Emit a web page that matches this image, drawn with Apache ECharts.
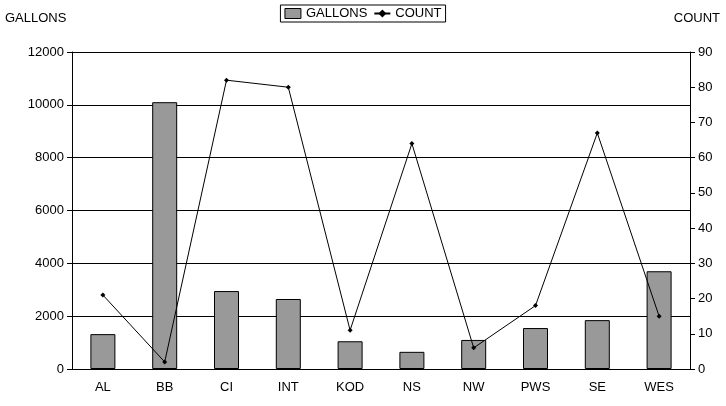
<!DOCTYPE html>
<html><head><meta charset="utf-8">
<script src="https://cdn.jsdelivr.net/npm/echarts@6/dist/echarts.min.js"></script>
<style>body{margin:0}#c{width:726px;height:406px}</style>
</head><body><div id="c"></div>
<script>
let cats=["AL","BB","CI","INT","KOD","NS","NW","PWS","SE","WES"];
let gallons=[1320,10100,2950,2650,1050,650,1100,1550,1850,3700];
let count=[21,2,82,80,11,64,6,18,67,15];
let font="Arial, Liberation Sans, sans-serif";
let chart=echarts.init(document.getElementById("c"));
chart.setOption({
  animation:false,
  textStyle:{fontFamily:font,color:"#000"},
  grid:{left:72,right:36,top:52,bottom:37},
  legend:{top:5,left:"center",itemGap:6,borderColor:"#000",borderWidth:1,padding:[2,4],
    itemWidth:16,itemHeight:10,textStyle:{fontSize:13,fontFamily:font,color:"#000"},
    data:[{name:"GALLONS",icon:"rect",itemStyle:{borderColor:"#000",borderWidth:1}},{name:"COUNT"}]},
  graphic:[
    {type:"text",left:5,top:12,style:{text:"GALLONS",font:"13px "+font,fill:"#000"}},
    {type:"text",right:6,top:12,style:{text:"COUNT",font:"13px "+font,fill:"#000"}}
  ],
  xAxis:{type:"category",data:cats,axisTick:{show:false},
    axisLine:{lineStyle:{color:"#000"}},axisLabel:{color:"#000",fontSize:13,margin:12}},
  yAxis:[
    {type:"value",min:0,max:12000,interval:2000,axisLine:{show:true,lineStyle:{color:"#000"}},
     axisTick:{show:true,length:5,inside:false},
     axisLabel:{color:"#000",fontSize:13,formatter:function(v){return String(v);}},
     splitLine:{lineStyle:{color:"#000"}}},
    {type:"value",min:0,max:90,interval:10,axisLine:{show:true,lineStyle:{color:"#000"}},
     axisTick:{show:true,length:5},axisLabel:{color:"#000",fontSize:13},splitLine:{show:false}}
  ],
  series:[
    {name:"GALLONS",type:"bar",data:gallons,barWidth:25,
     itemStyle:{color:"#999",borderColor:"#000",borderWidth:1}},
    {name:"COUNT",type:"line",yAxisIndex:1,data:count,symbol:"diamond",symbolSize:5,
     lineStyle:{color:"#000",width:1},itemStyle:{color:"#000"}}
  ]
});
</script></body></html>
